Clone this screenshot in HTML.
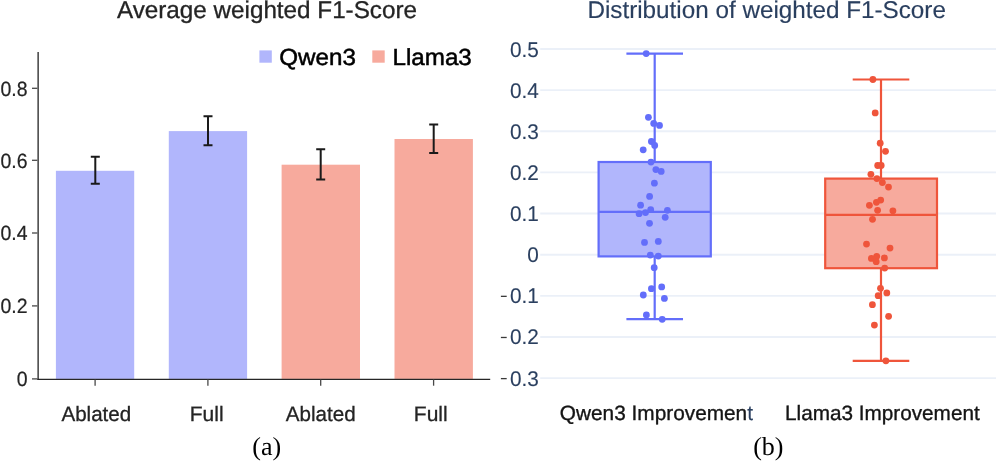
<!DOCTYPE html>
<html><head><meta charset="utf-8"><title>F1-Score charts</title>
<style>
html,body{margin:0;padding:0;background:#fff;}
body{width:996px;height:461px;overflow:hidden;}
svg{display:block;will-change:transform;}
text{font-family:"Liberation Sans",sans-serif;text-rendering:geometricPrecision;}
text.serif{font-family:"Liberation Serif",serif;}
</style></head><body>
<svg width="996" height="461" viewBox="0 0 996 461">
<rect x="0" y="0" width="996" height="461" fill="#ffffff"/>

<g id="left">
<text x="116.9" y="17.9" font-size="24.25" fill="#242424" stroke="#242424" stroke-width="0.3">Average weighted F1-Score</text>
<rect x="55.9" y="170.8" width="78.3" height="208.1" fill="#b1b6fc"/>
<rect x="168.8" y="131.1" width="78.3" height="247.8" fill="#b1b6fc"/>
<rect x="281.6" y="164.7" width="78.4" height="214.2" fill="#f7aa9d"/>
<rect x="394.5" y="139.0" width="78.4" height="239.9" fill="#f7aa9d"/>
<path d="M95.3,156.7V183.8M90.8,156.7H99.8M90.8,183.8H99.8" stroke="#1a1a1a" stroke-width="2" fill="none"/>
<path d="M208.0,116.3V145.2M203.5,116.3H212.5M203.5,145.2H212.5" stroke="#1a1a1a" stroke-width="2" fill="none"/>
<path d="M320.7,149.2V179.4M316.2,149.2H325.2M316.2,179.4H325.2" stroke="#1a1a1a" stroke-width="2" fill="none"/>
<path d="M433.7,124.5V152.9M429.2,124.5H438.2M429.2,152.9H438.2" stroke="#1a1a1a" stroke-width="2" fill="none"/>
<line x1="38.15" y1="52" x2="38.15" y2="379.9" stroke="#4c4c4c" stroke-width="1.6"/>
<line x1="37.3" y1="379.3" x2="490.2" y2="379.3" stroke="#262626" stroke-width="1.25"/>
<line x1="32" y1="378.9" x2="37.4" y2="378.9" stroke="#484848" stroke-width="1.3"/>
<text transform="translate(27.5,386.15) scale(0.94,1)" font-size="20.7" text-anchor="end" fill="#242424" stroke="#242424" stroke-width="0.2">0</text>
<line x1="32" y1="305.9" x2="37.4" y2="305.9" stroke="#484848" stroke-width="1.3"/>
<text transform="translate(27.5,313.15) scale(0.94,1)" font-size="20.7" text-anchor="end" fill="#242424" stroke="#242424" stroke-width="0.2">0.2</text>
<line x1="32" y1="233.0" x2="37.4" y2="233.0" stroke="#484848" stroke-width="1.3"/>
<text transform="translate(27.5,240.25) scale(0.94,1)" font-size="20.7" text-anchor="end" fill="#242424" stroke="#242424" stroke-width="0.2">0.4</text>
<line x1="32" y1="160.3" x2="37.4" y2="160.3" stroke="#484848" stroke-width="1.3"/>
<text transform="translate(27.5,167.55) scale(0.94,1)" font-size="20.7" text-anchor="end" fill="#242424" stroke="#242424" stroke-width="0.2">0.6</text>
<line x1="32" y1="88.3" x2="37.4" y2="88.3" stroke="#484848" stroke-width="1.3"/>
<text transform="translate(27.5,95.55) scale(0.94,1)" font-size="20.7" text-anchor="end" fill="#242424" stroke="#242424" stroke-width="0.2">0.8</text>
<line x1="95.1" y1="379.5" x2="95.1" y2="385.7" stroke="#484848" stroke-width="1.3"/>
<text transform="translate(61.4,420.8) scale(0.99,1)" font-size="20.8" fill="#242424" stroke="#242424" stroke-width="0.3">Ablated</text>
<line x1="207.9" y1="379.5" x2="207.9" y2="385.7" stroke="#484848" stroke-width="1.3"/>
<text transform="translate(189.7,420.8) scale(1.01,1)" font-size="20.8" fill="#242424" stroke="#242424" stroke-width="0.3">Full</text>
<line x1="320.7" y1="379.5" x2="320.7" y2="385.7" stroke="#484848" stroke-width="1.3"/>
<text transform="translate(285.8,420.8) scale(0.99,1)" font-size="20.8" fill="#242424" stroke="#242424" stroke-width="0.3">Ablated</text>
<line x1="433.6" y1="379.5" x2="433.6" y2="385.7" stroke="#484848" stroke-width="1.3"/>
<text transform="translate(413.8,420.8) scale(1.01,1)" font-size="20.8" fill="#242424" stroke="#242424" stroke-width="0.3">Full</text>
<rect x="259.4" y="50.4" width="12.4" height="12.3" fill="#b1b6fc"/>
<text transform="translate(279.2,65.0) scale(1.043,1)" font-size="23.2" fill="#000" stroke="#000" stroke-width="0.5">Qwen3</text>
<rect x="372.3" y="50.4" width="12.4" height="12.3" fill="#f7aa9d"/>
<text transform="translate(392.5,65.0) scale(1.043,1)" font-size="23.2" fill="#000" stroke="#000" stroke-width="0.5">Llama3</text>
<text class="serif" x="266.8" y="455.1" font-size="26" text-anchor="middle" fill="#000">(a)</text>
</g>
<g id="right">
<text x="587.4" y="17.7" font-size="24.25" fill="#2a3f5f" stroke="#2a3f5f" stroke-width="0.15">Distribution of weighted F1-Score</text>
<line x1="540.2" y1="49.00" x2="996" y2="49.00" stroke="#ebf0f8" stroke-width="1.9"/>
<text transform="translate(538.9,56.5) scale(0.975,1)" font-size="21.3" text-anchor="end" fill="#2a3f5f" stroke="#2a3f5f" stroke-width="0.12">0.5</text>
<line x1="540.2" y1="90.14" x2="996" y2="90.14" stroke="#ebf0f8" stroke-width="1.9"/>
<text transform="translate(538.9,97.64) scale(0.975,1)" font-size="21.3" text-anchor="end" fill="#2a3f5f" stroke="#2a3f5f" stroke-width="0.12">0.4</text>
<line x1="540.2" y1="131.28" x2="996" y2="131.28" stroke="#ebf0f8" stroke-width="1.9"/>
<text transform="translate(538.9,138.78) scale(0.975,1)" font-size="21.3" text-anchor="end" fill="#2a3f5f" stroke="#2a3f5f" stroke-width="0.12">0.3</text>
<line x1="540.2" y1="172.42" x2="996" y2="172.42" stroke="#ebf0f8" stroke-width="1.9"/>
<text transform="translate(538.9,179.92) scale(0.975,1)" font-size="21.3" text-anchor="end" fill="#2a3f5f" stroke="#2a3f5f" stroke-width="0.12">0.2</text>
<line x1="540.2" y1="213.56" x2="996" y2="213.56" stroke="#ebf0f8" stroke-width="1.9"/>
<text transform="translate(538.9,221.06) scale(0.975,1)" font-size="21.3" text-anchor="end" fill="#2a3f5f" stroke="#2a3f5f" stroke-width="0.12">0.1</text>
<line x1="540.2" y1="254.70" x2="996" y2="254.70" stroke="#ebf0f8" stroke-width="1.9"/>
<text transform="translate(538.9,262.2) scale(0.975,1)" font-size="21.3" text-anchor="end" fill="#2a3f5f" stroke="#2a3f5f" stroke-width="0.12">0</text>
<line x1="540.2" y1="295.84" x2="996" y2="295.84" stroke="#ebf0f8" stroke-width="1.9"/>
<text transform="translate(538.9,303.34) scale(0.975,1)" font-size="21.3" text-anchor="end" fill="#2a3f5f" stroke="#2a3f5f" stroke-width="0.12">0.1</text>
<rect x="500.9" y="295.69" width="5.8" height="1.3" fill="#3a3a3a"/>
<line x1="540.2" y1="336.98" x2="996" y2="336.98" stroke="#ebf0f8" stroke-width="1.9"/>
<text transform="translate(538.9,344.48) scale(0.975,1)" font-size="21.3" text-anchor="end" fill="#2a3f5f" stroke="#2a3f5f" stroke-width="0.12">0.2</text>
<rect x="500.9" y="336.83" width="5.8" height="1.3" fill="#3a3a3a"/>
<line x1="540.2" y1="378.12" x2="996" y2="378.12" stroke="#ebf0f8" stroke-width="1.9"/>
<text transform="translate(538.9,385.62) scale(0.975,1)" font-size="21.3" text-anchor="end" fill="#2a3f5f" stroke="#2a3f5f" stroke-width="0.12">0.3</text>
<rect x="500.9" y="377.97" width="5.8" height="1.3" fill="#3a3a3a"/>
<rect x="598.6" y="162.0" width="112.2" height="94.4" fill="#b1b6fc" stroke="#636efa" stroke-width="2.2"/>
<path d="M598.6,211.8H710.8M654.7,162.0V53.55M654.7,256.4V319.2M626.4000000000001,53.55H683.0M626.4000000000001,319.2H683.0" stroke="#636efa" stroke-width="2.2" fill="none"/>
<circle cx="646.2" cy="53.55" r="3.4" fill="#636efa"/>
<circle cx="648.4" cy="117.3" r="3.4" fill="#636efa"/>
<circle cx="653.7" cy="123.4" r="3.4" fill="#636efa"/>
<circle cx="659.5" cy="125.4" r="3.4" fill="#636efa"/>
<circle cx="651.4" cy="141.5" r="3.4" fill="#636efa"/>
<circle cx="654.7" cy="145.4" r="3.4" fill="#636efa"/>
<circle cx="643.2" cy="149.8" r="3.4" fill="#636efa"/>
<circle cx="651.0" cy="162.1" r="3.4" fill="#636efa"/>
<circle cx="655.9" cy="169.6" r="3.4" fill="#636efa"/>
<circle cx="661.2" cy="171.4" r="3.4" fill="#636efa"/>
<circle cx="654.4" cy="183.2" r="3.4" fill="#636efa"/>
<circle cx="649.6" cy="196.4" r="3.4" fill="#636efa"/>
<circle cx="640.6" cy="205.2" r="3.4" fill="#636efa"/>
<circle cx="650.7" cy="209.7" r="3.4" fill="#636efa"/>
<circle cx="645.5" cy="212.6" r="3.4" fill="#636efa"/>
<circle cx="639.1" cy="213.7" r="3.4" fill="#636efa"/>
<circle cx="667.4" cy="210.3" r="3.4" fill="#636efa"/>
<circle cx="665.2" cy="217.3" r="3.4" fill="#636efa"/>
<circle cx="649.5" cy="223.3" r="3.4" fill="#636efa"/>
<circle cx="644.5" cy="242.4" r="3.4" fill="#636efa"/>
<circle cx="658.3" cy="241.4" r="3.4" fill="#636efa"/>
<circle cx="650.3" cy="255.1" r="3.4" fill="#636efa"/>
<circle cx="658.3" cy="256.1" r="3.4" fill="#636efa"/>
<circle cx="654.2" cy="267.7" r="3.4" fill="#636efa"/>
<circle cx="651.4" cy="288.7" r="3.4" fill="#636efa"/>
<circle cx="661.7" cy="286.9" r="3.4" fill="#636efa"/>
<circle cx="643.3" cy="295.0" r="3.4" fill="#636efa"/>
<circle cx="664.4" cy="298.4" r="3.4" fill="#636efa"/>
<circle cx="646.4" cy="314.9" r="3.4" fill="#636efa"/>
<circle cx="662.2" cy="319.3" r="3.4" fill="#636efa"/>
<rect x="825.2" y="178.6" width="111.8" height="89.6" fill="#f7aa9d" stroke="#ef553b" stroke-width="2.2"/>
<path d="M825.2,214.8H937.0M881.0,178.6V79.5M881.0,268.2V360.8M852.7,79.5H909.3M852.7,360.8H909.3" stroke="#ef553b" stroke-width="2.2" fill="none"/>
<circle cx="872.9" cy="79.5" r="3.4" fill="#ef553b"/>
<circle cx="875.2" cy="112.9" r="3.4" fill="#ef553b"/>
<circle cx="880.2" cy="143.2" r="3.4" fill="#ef553b"/>
<circle cx="885.5" cy="151.3" r="3.4" fill="#ef553b"/>
<circle cx="877.7" cy="165.5" r="3.4" fill="#ef553b"/>
<circle cx="881.2" cy="165.5" r="3.4" fill="#ef553b"/>
<circle cx="870.9" cy="174.3" r="3.4" fill="#ef553b"/>
<circle cx="876.9" cy="178.6" r="3.4" fill="#ef553b"/>
<circle cx="882.4" cy="182.6" r="3.4" fill="#ef553b"/>
<circle cx="888.5" cy="187.1" r="3.4" fill="#ef553b"/>
<circle cx="880.7" cy="200.1" r="3.4" fill="#ef553b"/>
<circle cx="876.4" cy="202.3" r="3.4" fill="#ef553b"/>
<circle cx="869.4" cy="205.3" r="3.4" fill="#ef553b"/>
<circle cx="877.6" cy="210.3" r="3.4" fill="#ef553b"/>
<circle cx="892.9" cy="210.8" r="3.4" fill="#ef553b"/>
<circle cx="872.5" cy="219.3" r="3.4" fill="#ef553b"/>
<circle cx="866.5" cy="244.1" r="3.4" fill="#ef553b"/>
<circle cx="890.0" cy="248.1" r="3.4" fill="#ef553b"/>
<circle cx="876.7" cy="256.3" r="3.4" fill="#ef553b"/>
<circle cx="871.4" cy="258.4" r="3.4" fill="#ef553b"/>
<circle cx="876.2" cy="261.65" r="3.4" fill="#ef553b"/>
<circle cx="884.4" cy="257.9" r="3.4" fill="#ef553b"/>
<circle cx="884.7" cy="268.1" r="3.4" fill="#ef553b"/>
<circle cx="880.5" cy="288.3" r="3.4" fill="#ef553b"/>
<circle cx="886.8" cy="292.95" r="3.4" fill="#ef553b"/>
<circle cx="878.2" cy="295.7" r="3.4" fill="#ef553b"/>
<circle cx="872.4" cy="304.7" r="3.4" fill="#ef553b"/>
<circle cx="888.6" cy="316.3" r="3.4" fill="#ef553b"/>
<circle cx="874.4" cy="325.1" r="3.4" fill="#ef553b"/>
<circle cx="885.9" cy="360.8" r="3.4" fill="#ef553b"/>
<text transform="translate(559.8,420.2) scale(1.006,1)" font-size="20.7" fill="#151515" stroke="#151515" stroke-width="0.35">Qwen3 Improvemen<tspan fill="#2a3f5f" stroke="#2a3f5f" stroke-width="0.1">t</tspan></text>
<text transform="translate(785.0,420.2) scale(1.002,1)" font-size="20.7" fill="#151515" stroke="#151515" stroke-width="0.35">Llama3 Improvement</text>
<text class="serif" x="768.3" y="455.1" font-size="26" text-anchor="middle" fill="#000">(b)</text>
</g>
</svg></body></html>
